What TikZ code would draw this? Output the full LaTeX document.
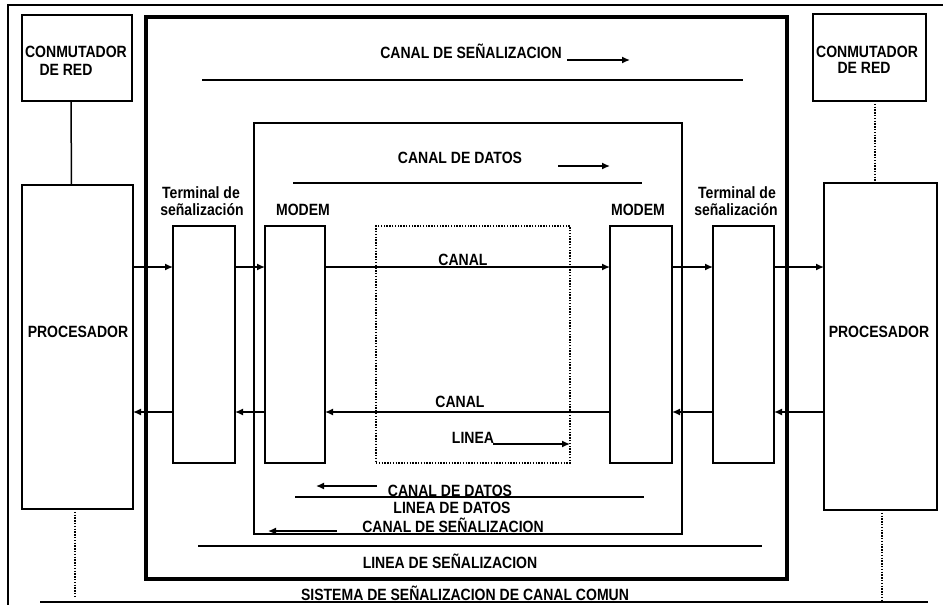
\documentclass[tikz,border=0pt]{standalone}
\usepackage{fontspec}
\setmainfont{Liberation Sans}[FakeStretch=0.86]
\usetikzlibrary{arrows.meta}
\begin{document}
\begin{tikzpicture}[x=1pt,y=-1pt,
  box/.style={draw,line width=1.5pt,inner sep=0pt,outer sep=0pt},
  sigbox/.style={draw,line width=3.2pt,inner sep=0pt,outer sep=0pt},
  dotbox/.style={draw,line width=1.6pt,dash pattern=on 1.4pt off 1.4pt,inner sep=0pt,outer sep=0pt},
  lbl/.style={inner sep=0pt,anchor=base,font=\fontsize{16.3}{18}\selectfont\bfseries},
  arr/.style={line width=1.4pt,-{Latex[length=8pt,width=7pt]}},
  sep/.style={line width=1.6pt},
  dotl/.style={line width=1.6pt,dash pattern=on 1.4pt off 1.4pt}]
\useasboundingbox (0,0) rectangle (943,605);
\fill[white] (0,0) rectangle (943,605);
% outer frame
\draw[line width=1.5pt] (8,605) -- (8,5) -- (943,5);
\draw[line width=1.5pt] (40,602) -- (928,602);
% boxes
\node[sigbox,minimum width=641pt,minimum height=562pt] (sig) at (466.5,298) {};
\node[box,minimum width=428pt,minimum height=411pt] (dat) at (468,328.5) {};
\node[box,minimum width=110pt,minimum height=86pt] (cl) at (77,58) {};
\node[box,minimum width=113pt,minimum height=87pt] (cr) at (869.5,57.5) {};
\node[box,minimum width=111pt,minimum height=324pt] (pl) at (77.5,347) {};
\node[box,minimum width=113pt,minimum height=327pt] (pr) at (880.5,346.5) {};
\node[box,minimum width=62pt,minimum height=237pt] (tl) at (204,344.5) {};
\node[box,minimum width=60pt,minimum height=237pt] (ml) at (295,344.5) {};
\node[dotbox,minimum width=194pt,minimum height=237pt] (dot) at (473,344.5) {};
\node[box,minimum width=62pt,minimum height=237pt] (mr) at (641,344.5) {};
\node[box,minimum width=61pt,minimum height=237pt] (tr) at (743.5,344.5) {};
% labels
\node[lbl] (clt1) at (76,57) {CONMUTADOR};
\node[lbl] (clt2) at (66,75) {DE RED};
\node[lbl] (crt1) at (867,57) {CONMUTADOR};
\node[lbl] (crt2) at (864,73) {DE RED};
\node[lbl] (plt) at (78,337) {PROCESADOR};
\node[lbl] (prt) at (879,337) {PROCESADOR};
\node[lbl] (tlt1) at (201,198) {Terminal de};
\node[lbl] (tlt2) at (202,215) {señalización};
\node[lbl] (trt1) at (737,198) {Terminal de};
\node[lbl] (trt2) at (736,215) {señalización};
\node[lbl] (mlt) at (303,215) {MODEM};
\node[lbl] (mrt) at (638,215) {MODEM};
\node[lbl] (cs1) at (471,58) {CANAL DE SEÑALIZACION};
\node[lbl] (cd1) at (460,163) {CANAL DE DATOS};
\node[lbl] (ca1) at (463,265) {CANAL};
\node[lbl] (ca2) at (460,407) {CANAL};
\node[lbl] (lin) at (473,443) {LINEA};
\node[lbl] (cd2) at (450,496) {CANAL DE DATOS};
\node[lbl] (ld) at (452,513) {LINEA DE DATOS};
\node[lbl] (cs2) at (453,532) {CANAL DE SEÑALIZACION};
\node[lbl] (ls) at (450,568) {LINEA DE SEÑALIZACION};
\node[lbl] (sis) at (465,600) {SISTEMA DE SEÑALIZACION DE CANAL COMUN};
% separator lines
\draw[sep] (202,80) -- (743,80);
\draw[sep] (293,183) -- (642,183);
\draw[sep] (295,497) -- (644,497);
\draw[sep] (198,546) -- (762,546);
% direction arrows
\draw[arr] (567,60) -- (630,60);
\draw[arr] (558,166) -- (610,166);
\draw[arr] (493,444) -- (dot.east |- 0,444);
\draw[arr] (377,486) -- (316,486);
\draw[arr] (337,531) -- (268,531);
% connectors
\coordinate (fy) at (0,267);
\coordinate (by) at (0,412);
\draw[line width=1.5pt] ([xshift=-6pt]cl.south) -- ([xshift=-6pt]pl.north);
\draw[dotl] ([xshift=5.5pt]cr.south) -- ([xshift=-5.5pt]pr.north);
\draw[dotl] ([xshift=-2.5pt]pl.south) -- ++(0,88);
\draw[dotl] ([xshift=1.5pt]pr.south) -- ++(0,90);
\draw[arr] (pl.east |- fy) -- (tl.west |- fy);
\draw[arr] (tl.east |- fy) -- (ml.west |- fy);
\draw[arr] (ml.east |- fy) -- (mr.west |- fy);
\draw[arr] (mr.east |- fy) -- (tr.west |- fy);
\draw[arr] (tr.east |- fy) -- (pr.west |- fy);
\draw[arr] (pr.west |- by) -- (tr.east |- by);
\draw[arr] (tr.west |- by) -- (mr.east |- by);
\draw[arr] (mr.west |- by) -- (ml.east |- by);
\draw[arr] (ml.west |- by) -- (tl.east |- by);
\draw[arr] (tl.west |- by) -- (pl.east |- by);
\end{tikzpicture}
\end{document}
